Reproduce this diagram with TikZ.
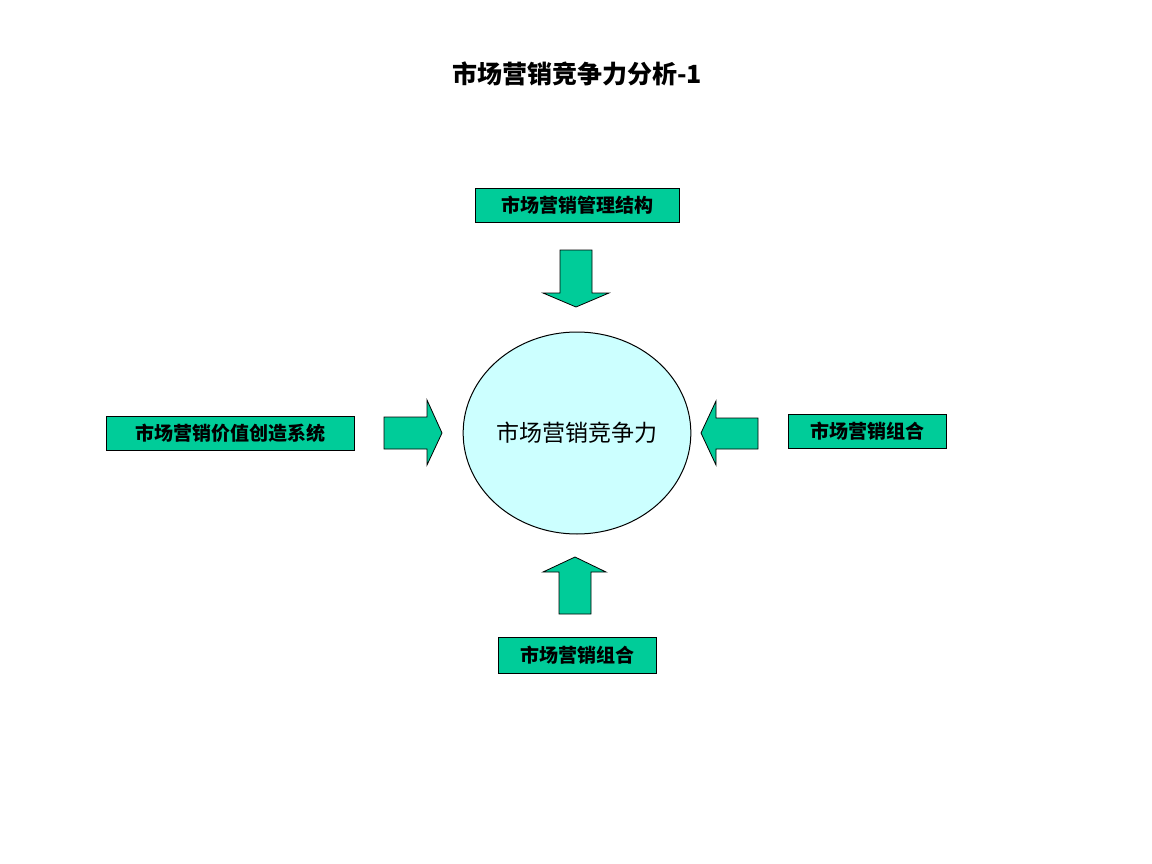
\documentclass[tikz,border=0pt]{standalone}
\usepackage{fontspec}
\usetikzlibrary{shapes.geometric}
\setmainfont{Noto Sans CJK SC}
\begin{document}
\begin{tikzpicture}[x=1pt,y=-1pt,
  box/.style={draw=black,fill=gr,line width=1pt,minimum height=34pt,inner xsep=6pt,font=\fontsize{19}{21}\selectfont\bfseries},
  arr/.style={draw=black,fill=gr,line width=0.8pt,line join=miter}]
\definecolor{gr}{HTML}{00CC99}
\definecolor{cy}{HTML}{CCFFFF}
\useasboundingbox (0,0) rectangle (1152,864);
\node[font=\fontsize{25}{28}\selectfont\bfseries] (title) at (577,74) {市场营销竞争力分析-1};
\node[draw=black,fill=cy,line width=1pt,ellipse,minimum width=210pt,minimum height=202pt,inner sep=0pt,font=\fontsize{23}{26}\selectfont] (c) at (577,433) {市场营销竞争力};
\node[box,minimum width=204pt] (t) at (577,205.5) {市场营销管理结构};
\node[box,minimum width=248pt] (l) at (230,433.5) {市场营销价值创造系统};
\node[box,minimum width=158pt] (r) at (867,431) {市场营销组合};
\node[box,minimum width=158pt,minimum height=36pt] (b) at (577,655) {市场营销组合};
\draw[arr] (560,250)--(592,250)--(592,293)--(609,293)--(576,307)--(543,293)--(560,293)--cycle;
\draw[arr] (384,417)--(427,417)--(427,400)--(442,433)--(427,465)--(427,449)--(384,449)--cycle;
\draw[arr] (758,418)--(716,418)--(716,401)--(701,433)--(716,465)--(716,449)--(758,449)--cycle;
\draw[arr] (559,614)--(591,614)--(591,572)--(606,572)--(575,557)--(543,572)--(559,572)--cycle;
\end{tikzpicture}
\end{document}
